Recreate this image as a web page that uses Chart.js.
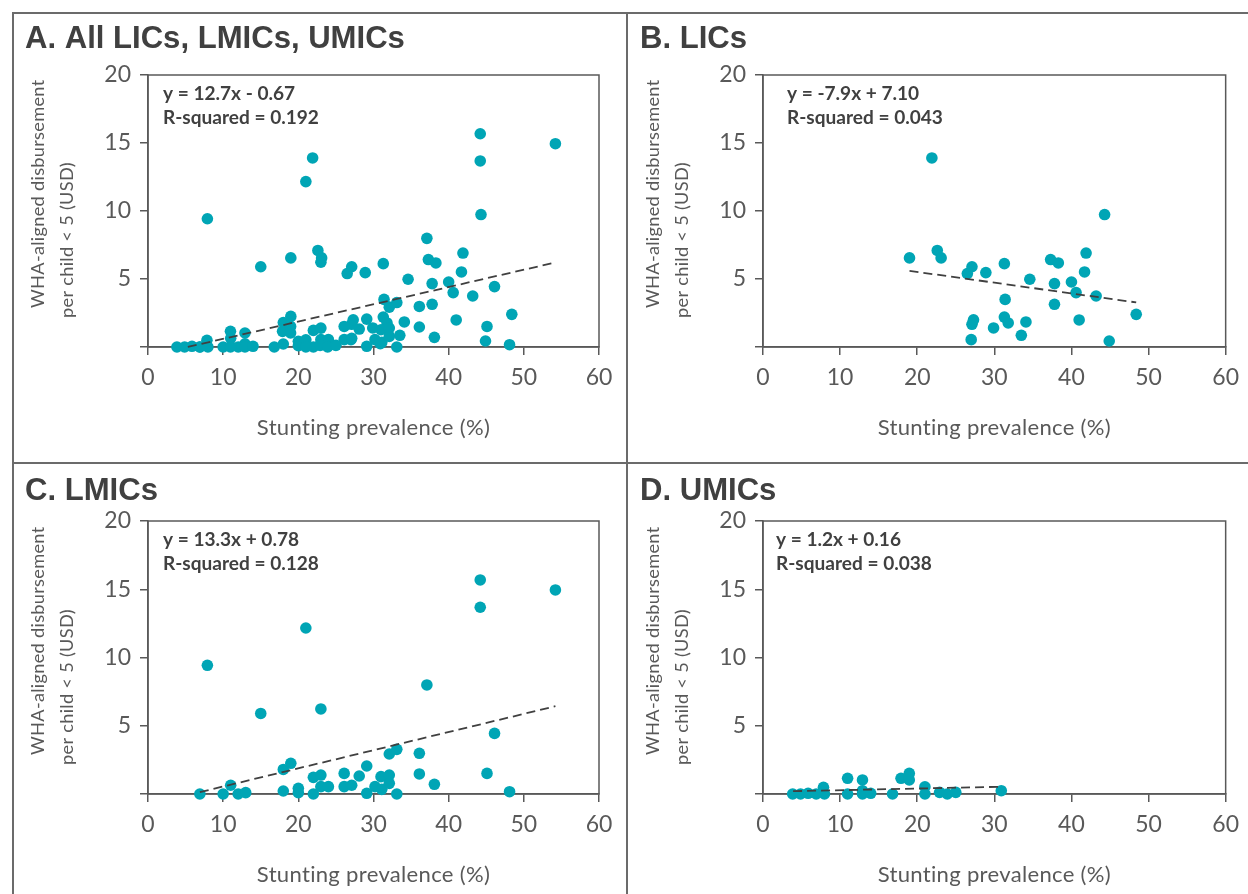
<!DOCTYPE html>
<html><head><meta charset="utf-8">
<script src="https://cdn.jsdelivr.net/npm/chart.js@4.4.1/dist/chart.umd.min.js"></script>
<style>
html,body{margin:0;padding:0;background:#fff;}
body{width:1248px;height:894px;position:relative;overflow:hidden;}
canvas{position:absolute;}
.rule{position:absolute;background:#6b6b6b;}
</style></head><body>
<div class="rule" style="left:12px;top:12px;width:1236px;height:2px"></div>
<div class="rule" style="left:12px;top:12px;width:2px;height:882px"></div>
<div class="rule" style="left:626px;top:12px;width:2px;height:882px"></div>
<div class="rule" style="left:12px;top:462px;width:1236px;height:2px"></div>
<canvas id="cA"></canvas><canvas id="cB"></canvas><canvas id="cC"></canvas><canvas id="cD"></canvas>
<script>
// ---------- data ----------
const panelTitles = ['A. All LICs, LMICs, UMICs', 'B. LICs', 'C. LMICs', 'D. UMICs'];
const xTicks = [0, 10, 20, 30, 40, 50, 60];
const yTicks = [0, 5, 10, 15, 20];
const xAxisTitle = 'Stunting prevalence (%)';
const yAxisTitle = ['WHA-aligned disbursement', 'per child < 5 (USD)'];

// LICs
const licX = [21.9, 19.0, 22.6, 23.1, 26.5, 27.1, 28.9, 27.1, 27.3, 27.0, 29.9, 31.3, 31.4, 31.3, 31.8, 33.5, 34.1, 34.6, 37.3, 38.3, 37.8, 37.8, 40.0, 40.6, 41.0, 41.7, 41.9, 43.2, 44.3, 44.9, 48.4];
const licY = [13.9, 6.55, 7.1, 6.55, 5.4, 5.9, 5.47, 1.67, 2.0, 0.54, 1.4, 6.13, 3.5, 2.2, 1.77, 0.86, 1.84, 4.98, 6.43, 6.18, 4.66, 3.14, 4.78, 4.0, 1.99, 5.52, 6.91, 3.75, 9.74, 0.44, 2.4];
// LMICs
const lmicX = [6.9, 7.9, 10.0, 11.0, 12.0, 13.0, 15.0, 18.0, 18.0, 19.0, 20.0, 20.0, 21.0, 22.0, 22.0, 23.0, 23.0, 23.0, 24.0, 26.1, 26.1, 27.1, 28.1, 29.1, 29.1, 30.2, 31.0, 31.1, 32.1, 32.1, 32.1, 33.1, 33.1, 36.1, 36.1, 37.1, 38.1, 44.2, 44.2, 45.1, 46.1, 48.1, 54.2];
const lmicY = [0.0, 9.43, 0.0, 0.64, 0.0, 0.1, 5.9, 1.8, 0.22, 2.25, 0.42, 0.1, 12.16, 0.0, 1.22, 6.23, 1.39, 0.54, 0.54, 1.51, 0.54, 0.64, 1.32, 2.05, 0.05, 0.54, 1.27, 0.34, 1.39, 0.78, 2.93, 3.27, 0.0, 2.98, 1.47, 7.99, 0.71, 15.68, 13.68, 1.51, 4.44, 0.17, 14.95];
// UMICs
const umicX = [3.85, 4.87, 5.85, 6.9, 7.97, 7.84, 10.97, 10.97, 12.9, 12.9, 12.9, 13.97, 16.8, 17.9, 18.97, 18.97, 21.0, 21.0, 22.9, 23.9, 25.0, 30.9];
const umicY = [0.0, 0.0, 0.05, 0.0, 0.0, 0.49, 1.15, 0.0, 1.03, 0.24, 0.0, 0.05, 0.0, 1.15, 1.51, 1.03, 0.53, 0.0, 0.12, 0.0, 0.12, 0.24];
// All = union
const allX = licX.concat(lmicX, umicX);
const allY = licY.concat(lmicY, umicY);

// fitted trend lines (slope per unit fraction), drawn over the fitted x range
const trendSlope = [12.7, -7.9, 13.3, 1.2];
const trendIntercept = [-0.67, 7.10, -0.78, 0.16];
const trendXStart = [5.3, 19.0, 6.9, 3.9];
const trendXEnd = [54.0, 48.4, 54.2, 30.9];
const eqLine1 = ['y = 12.7x - 0.67', 'y = -7.9x + 7.10', 'y = 13.3x + 0.78', 'y = 1.2x + 0.16'];
const eqLine2 = ['R-squared = 0.192', 'R-squared = 0.043', 'R-squared = 0.128', 'R-squared = 0.038'];

// ---------- styles / layout ----------
const TEAL = '#00A5B5';
const AXIS = '#595959';
const TICKC = '#595959';
const TXT = '#404040';
const LATO = 'Lato';

const layoutCfg = [
  {canvas:[14,14,612,448], plot:[148,75,599,347], eqDx:15, titleBase:48},
  {canvas:[628,14,620,448], plot:[763,75,1230,347], eqDx:24, titleBase:48},
  {canvas:[14,464,612,430], plot:[148,521,599,794], eqDx:15, titleBase:500},
  {canvas:[628,464,620,430], plot:[763,521,1230,794], eqDx:13, titleBase:500}
];

const SPACING = '0.3px';
const mctx = document.createElement('canvas').getContext('2d');
function fitSize(text, weight, family, target, spacing){
  mctx.font = `${weight} 20px "${family}"`;
  mctx.letterSpacing = spacing || '0px';
  return 20 * target / mctx.measureText(text).width;
}
const titleSize = fitSize(panelTitles[0], 'bold', 'Liberation Sans', 380);
const eqSize = fitSize(eqLine2[0], 'bold', LATO, 156);
const yTitleSize = fitSize(yAxisTitle[0], 'normal', LATO, 228, SPACING);
const xTitleSize = fitSize(xAxisTitle, 'normal', LATO, 234, SPACING);

const framePlugin = {
  id:'frame',
  beforeDatasetsDraw(chart){
    const {ctx, chartArea:a} = chart;
    ctx.save();
    ctx.strokeStyle = AXIS; ctx.lineWidth = 1.5;
    ctx.strokeRect(a.left, a.top, a.right - a.left, a.bottom - a.top);
    ctx.restore();
  }
};

const textPlugin = {
  id:'panelText',
  afterDraw(chart, args, opts){
    const i = opts.idx; const L = layoutCfg[i];
    const {ctx, chartArea:a} = chart;
    const cx = L.canvas[0], cy = L.canvas[1];
    ctx.save();
    // panel title
    ctx.fillStyle = TXT; ctx.textAlign = 'left'; ctx.textBaseline = 'alphabetic';
    ctx.font = `bold ${titleSize}px "Liberation Sans"`;
    const tx = (i % 2 === 0) ? 25 : 640;
    ctx.fillText(panelTitles[i], tx - cx, L.titleBase - cy);
    // equation
    ctx.font = `bold ${eqSize}px ${LATO}`;
    ctx.fillText(eqLine1[i], a.left + L.eqDx, a.top + 25);
    ctx.fillText(eqLine2[i], a.left + L.eqDx, a.top + 49);
    // x axis title
    ctx.fillStyle = TICKC;
    ctx.letterSpacing = SPACING;
    ctx.font = `${xTitleSize}px ${LATO}`;
    ctx.textAlign = 'center';
    ctx.fillText(xAxisTitle, (a.left + a.right) / 2, a.bottom + 88);
    // y axis title (two rotated lines)
    ctx.font = `${yTitleSize}px ${LATO}`;
    ctx.textAlign = 'left'; ctx.textBaseline = 'middle';
    const yl = [[a.left - 110, a.bottom - 39], [a.left - 81, a.bottom - 29]];
    yAxisTitle.forEach((t, k) => {
      ctx.save();
      ctx.translate(yl[k][0], yl[k][1]);
      ctx.rotate(-Math.PI / 2);
      ctx.fillText(t, 0, 0);
      ctx.restore();
    });
    ctx.restore();
  }
};

const seriesX = [allX, licX, lmicX, umicX];
const seriesY = [allY, licY, lmicY, umicY];

['cA','cB','cC','cD'].forEach((id, i) => {
  const L = layoutCfg[i];
  const cv = document.getElementById(id);
  cv.width = L.canvas[2]; cv.height = L.canvas[3];
  cv.style.left = L.canvas[0] + 'px'; cv.style.top = L.canvas[1] + 'px';
  cv.style.width = L.canvas[2] + 'px'; cv.style.height = L.canvas[3] + 'px';
  const yW = L.plot[0] - L.canvas[0];
  const padTop = L.plot[1] - L.canvas[1];
  const padRight = (L.canvas[0] + L.canvas[2]) - L.plot[2];
  const xH = (L.canvas[1] + L.canvas[3]) - L.plot[3];
  const pts = seriesX[i].map((x, k) => ({x, y: seriesY[i][k]}));
  const trend = [trendXStart[i], trendXEnd[i]].map(x => ({x, y: trendSlope[i] * x / 100 + trendIntercept[i]}));
  new Chart(cv, {
    type:'scatter',
    data:{datasets:[
      {data:trend, showLine:true, pointRadius:0, borderColor:'#404040', borderWidth:1.8, borderDash:[9,5], order:0, clip:false},
      {data:pts, backgroundColor:TEAL, borderWidth:0, pointRadius:5.8, pointHoverRadius:5.8, order:1, clip:false}
    ]},
    options:{
      responsive:false, animation:false, events:[], devicePixelRatio:1,
      layout:{padding:{top:padTop, right:padRight, left:0, bottom:0}},
      plugins:{legend:{display:false}, tooltip:{enabled:false}, panelText:{idx:i}},
      scales:{
        x:{type:'linear', min:xTicks[0], max:xTicks[xTicks.length-1],
          afterBuildTicks(s){ s.ticks = xTicks.map(v => ({value:v})); },
          ticks:{color:TICKC, font:{family:LATO, size:23}, padding:9, maxRotation:0, autoSkip:false},
          grid:{drawOnChartArea:false, drawTicks:true, tickLength:8, color:AXIS, lineWidth:1.5},
          border:{display:true, color:AXIS, width:1.5},
          afterFit(s){ s.height = xH; }
        },
        y:{type:'linear', min:yTicks[0], max:yTicks[yTicks.length-1],
          afterBuildTicks(s){ s.ticks = yTicks.map(v => ({value:v})); },
          ticks:{color:TICKC, font:{family:LATO, size:23}, padding:9, autoSkip:false, callback:v => v === 0 ? '' : v},
          grid:{drawOnChartArea:false, drawTicks:true, tickLength:8, color:AXIS, lineWidth:1.5},
          border:{display:true, color:AXIS, width:1.5},
          afterFit(s){ s.width = yW; }
        }
      }
    },
    plugins:[framePlugin, textPlugin]
  });
});
</script>
</body></html>
